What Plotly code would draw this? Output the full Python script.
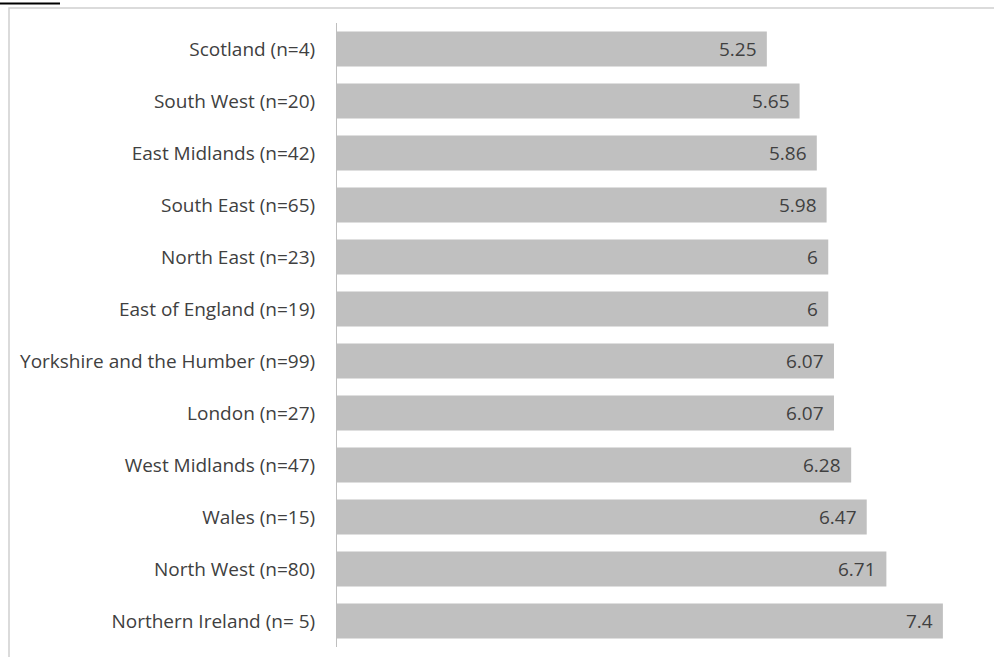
import plotly.graph_objects as go

categories = ["Scotland (n=4)", "South West (n=20)", "East Midlands (n=42)", "South East (n=65)",
              "North East (n=23)", "East of England (n=19)", "Yorkshire and the Humber (n=99)",
              "London (n=27)", "West Midlands (n=47)", "Wales (n=15)", "North West (n=80)",
              "Northern Ireland (n= 5)"]
values = [5.25, 5.65, 5.86, 5.98, 6, 6, 6.07, 6.07, 6.28, 6.47, 6.71, 7.4]
value_labels = ["5.25", "5.65", "5.86", "5.98", "6", "6", "6.07", "6.07", "6.28", "6.47", "6.71", "7.4"]

W, H = 994, 657
L, R, T, B = 337, 2, 23, 10
pw = W - L - R
ph = H - T - B
FONT = "Open Sans, Liberation Sans, sans-serif"

fig = go.Figure(go.Bar(
    x=values, y=categories, orientation="h",
    marker=dict(color="#c0c0c0", line=dict(width=0)),
    hoverinfo="skip",
))

for v, c, t in zip(values, categories, value_labels):
    fig.add_annotation(x=v, y=c, xref="x", yref="y", text=t, showarrow=False,
                       xanchor="right", xshift=-8,
                       font=dict(family=FONT, size=19, color="#404040"))

# outer frame
fig.add_shape(type="rect", xref="paper", yref="paper",
              x0=(9 - L) / pw, x1=(W + 20 - L) / pw,
              y0=-(20 + B) / ph, y1=1 + (T - 8) / ph,
              line=dict(color="#d0d0d0", width=1.5), layer="below")
# small dark line at top-left corner
fig.add_shape(type="line", xref="paper", yref="paper",
              x0=(0 - L) / pw, x1=(60 - L) / pw,
              y0=1 + (T - 3.5) / ph, y1=1 + (T - 3.5) / ph,
              line=dict(color="#000000", width=2))

fig.update_layout(
    width=W, height=H,
    margin=dict(l=L, r=R, t=T, b=B),
    paper_bgcolor="white", plot_bgcolor="white",
    bargap=0.33,
    showlegend=False,
    font=dict(family=FONT, size=19, color="#404040"),
    xaxis=dict(range=[0, 8], visible=False, fixedrange=True),
    yaxis=dict(autorange="reversed", showline=True, linecolor="#bfbfbf", linewidth=1,
               ticks="", ticklabelstandoff=17, showgrid=False, zeroline=False, fixedrange=True,
               tickfont=dict(family=FONT, size=19, color="#404040")),
)

fig.write_html("out.html", config={"displayModeBar": False},
               post_script="document.body.style.margin='0';document.body.style.overflow='hidden';")
